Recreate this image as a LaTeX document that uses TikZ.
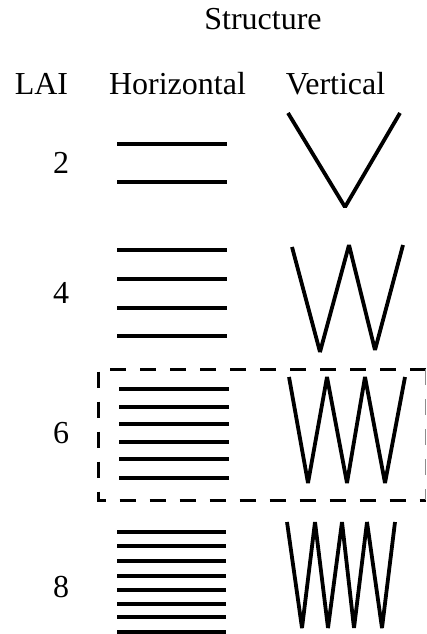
\documentclass[tikz,border=0pt]{standalone}
\usepackage{fontspec}
\setmainfont{Liberation Serif}
\begin{document}
\begin{tikzpicture}[x=1pt,y=-1pt,
  lbl/.style={anchor=base,inner sep=0pt,font=\fontsize{32}{38}\selectfont},
  hline/.style={line width=3.6pt},
  zig/.style={line width=3.8pt,line join=bevel},
  frame/.style={line width=3pt,dash pattern=on 16pt off 14pt},
  frameedge/.style={line width=1pt,draw=black!45,dash pattern=on 16pt off 14pt}]
\useasboundingbox (0,0) rectangle (426,634);
% headings
\node[lbl] (structure) at (263,30) {Structure};
\node[lbl] (lai) at (41.5,94) {LAI};
\node[lbl] (horiz) at (177.5,94) {Horizontal};
\node[lbl] (vert) at (335.5,94) {Vertical};
% LAI values
\node[lbl] (l2) at (61,173) {2};
\node[lbl] (l4) at (61,303) {4};
\node[lbl] (l6) at (61,443) {6};
\node[lbl] (l8) at (61,597) {8};
% horizontal structures
\foreach \y in {144,182} \draw[hline] (117,\y) -- (227,\y);
\foreach \y in {250,279,308,336} \draw[hline] (117,\y) -- (227,\y);
\foreach \y in {389,407,424,442,459,478} \draw[hline] (119,\y) -- (229,\y);
\foreach \y in {532,546,561,576,590,604,617,632} \draw[hline] (117,\y) -- (226,\y);
% vertical structures
\draw[zig] (288,113) -- (345,207) -- (400,113);
\draw[zig] (292,247) -- (320,352) -- (349,245) -- (375,350) -- (403,245);
\draw[zig] (289,377) -- (308,483) -- (327,377) -- (347,483) -- (365,377) -- (385,483) -- (405,377);
\draw[zig] (287,522) -- (302,628) -- (315,522) -- (328,628) -- (342,522) -- (354,628) -- (367,522) -- (382,628) -- (395,522);
% highlight frame
\coordinate (ftr) at (425.5,369);
\coordinate (ftl) at (98,369);
\coordinate (fbl) at (98,500);
\coordinate (fbr) at (425.5,500);
\draw[frame] (ftr) -- (ftl) -- (fbl) -- (fbr);
\draw[frameedge] (ftr) -- (fbr);
\end{tikzpicture}
\end{document}
